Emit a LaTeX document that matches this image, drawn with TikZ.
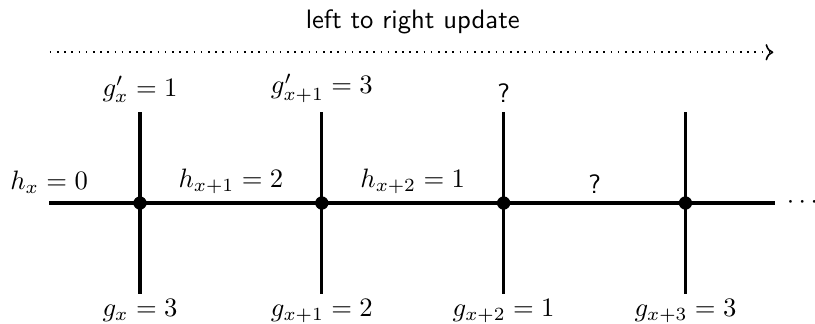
\documentclass[tikz,border=0pt]{standalone}
\usepackage{amsmath}
\usepackage{tikz}
\usetikzlibrary{arrows.meta, positioning}

\begin{document}
\begin{tikzpicture}[
    font=\normalsize,
    wire/.style={line width=1.2pt, black},
    junction/.style={circle, fill=black, inner sep=0pt, minimum size=5pt},
    sweep/.style={->, semithick, dash pattern=on 0.6pt off 2.1pt},
    unknown/.style={font=\sffamily},
    foot/.style={below, inner sep=2pt}
]
\useasboundingbox (-1.848,-1.584) rectangle (8.91,2.68);

\coordinate (hs) at (-1.2, 0);
\coordinate (he) at (8.38, 0);
\coordinate (t1) at (0, 1.2);
\coordinate (b1) at (0, -1.2);
\coordinate (t2) at (2.4, 1.2);
\coordinate (b2) at (2.4, -1.2);
\coordinate (t3) at (4.8, 1.2);
\coordinate (b3) at (4.8, -1.2);
\coordinate (t4) at (7.2, 1.2);
\coordinate (b4) at (7.2, -1.2);
\coordinate (ss) at (-1.19, 1.99);
\coordinate (se) at (8.36, 1.99);

\draw[wire] (hs) -- (he);
\draw[wire] (t1) -- (b1);
\draw[wire] (t2) -- (b2);
\draw[wire] (t3) -- (b3);
\draw[wire] (t4) -- (b4);

\node[junction] (v1) at (0, 0) {};
\node[junction] (v2) at (2.4, 0) {};
\node[junction] (v3) at (4.8, 0) {};
\node[junction] (v4) at (7.2, 0) {};

\node[right=1pt of he] (more) {$\cdots$};

\node[above] (h0) at (hs) {$h_x = 0$};
\node[above] (h1) at (1.2, 0) {$h_{x+1} = 2$};
\node[above] (h2) at (3.6, 0) {$h_{x+2} = 1$};
\node[above, unknown] (h3) at (6.0, 0) {?};

\node[above] (gp1) at (t1) {$g'_x = 1$};
\node[above] (gp2) at (t2) {$g'_{x+1} = 3$};
\node[above, unknown] (gp3) at (t3) {?};

\node[foot] (g1) at (b1) {$g_x = 3$};
\node[foot] (g2) at (b2) {$g_{x+1} = 2$};
\node[foot] (g3) at (b3) {$g_{x+2} = 1$};
\node[foot] (g4) at (b4) {$g_{x+3} = 3$};

\draw[sweep] (ss) -- (se);
\node[font=\sffamily] (title) at (3.6, 2.39) {left to right update};

\end{tikzpicture}
\end{document}
